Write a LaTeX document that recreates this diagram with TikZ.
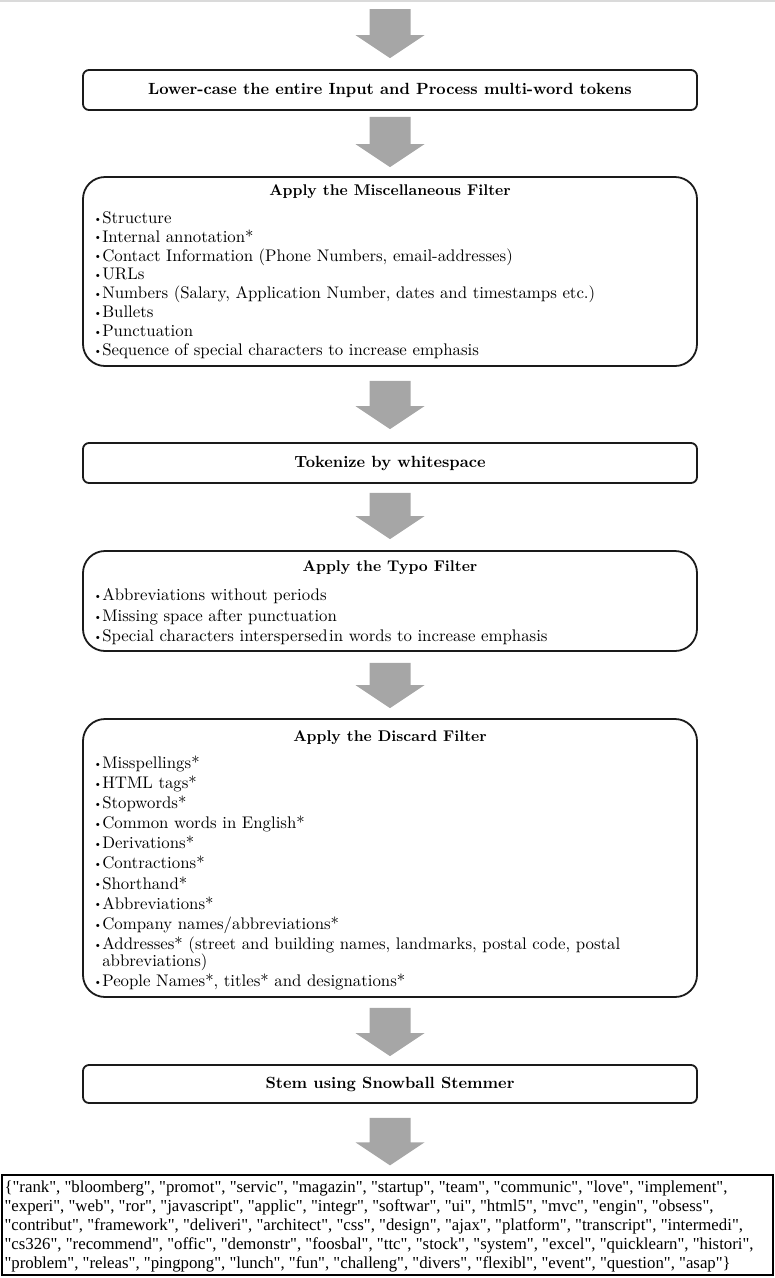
\documentclass[tikz,border=0pt]{standalone}
\usepackage{fontspec}
\newfontfamily\boxfont{lmroman10-regular.otf}[BoldFont=lmroman10-bold.otf]
\newfontfamily\listfont{Liberation Serif}
\usetikzlibrary{calc}

\definecolor{arrowgray}{HTML}{A6A6A6}
\definecolor{edge}{HTML}{1A1A1A}
\definecolor{rulegray}{HTML}{DADADA}

% one bullet item with a hanging indent and a small bullet
\newcommand\bul[1]{\par\hangindent=9pt\hangafter=1\noindent
  \makebox[9pt][c]{\raisebox{1.2pt}{\fontsize{11}{11}\selectfont\textbullet}}#1}
% paragraph spacing of a bullet list, no hyphenation
\newcommand\itemsetup[1]{\setlength{\parskip}{#1}\hyphenpenalty=10000\exhyphenpenalty=10000\relax}

\tikzset{
  stepbox/.style={draw=edge, line width=1.8pt, rounded corners=6pt,
    minimum width=614pt, inner sep=0pt,
    font=\boxfont\fontsize{16.2}{19}\selectfont\bfseries},
  filterbox/.style={draw=edge, line width=1.8pt, rounded corners=22pt,
    minimum width=614pt, inner sep=0pt},
  heading/.style={inner sep=0pt, font=\boxfont\fontsize{15.5}{19}\selectfont\bfseries},
  items/.style={anchor=north west, inner sep=0pt, text width=598pt, align=left,
    font=\boxfont\fontsize{16.8}{17}\selectfont},
  listbox/.style={draw=black, line width=1.3pt, minimum width=771pt,
    minimum height=100pt, inner sep=0pt},
  listtext/.style={anchor=north west, inner sep=0pt, align=left,
    font=\listfont\fontsize{16.8}{19}\selectfont},
  blockarrow/.style={fill=arrowgray, draw=none,
    to path={let \p1=(\tikztostart), \p2=(\tikztotarget) in
      (\x1-20.5pt,\y1) -- (\x1+20.5pt,\y1) -- (\x1+20.5pt,\y2+23pt)
      -- (\x1+34.5pt,\y2+23pt) -- (\x1,\y2) -- (\x1-34.5pt,\y2+23pt)
      -- (\x1-20.5pt,\y2+23pt) -- cycle}},
}

\begin{document}
\begin{tikzpicture}[x=1pt, y=-1pt]
\useasboundingbox (0,0) rectangle (775,1278);
\fill[rulegray] (0,0) rectangle (775,2);

% processing steps
\node[stepbox, minimum height=40pt] (lower) at (390,90)
  {Lower-case the entire Input and Process multi-word tokens};

\node[filterbox, minimum height=189pt] (misc) at (390,271.5) {};
\node[heading] (mischead) at ([yshift=-16pt]misc.north) {Apply the Miscellaneous Filter};
\node[items] (miscitems) at ([xshift=11pt,yshift=-28pt]misc.north west) {%
  \itemsetup{1.9pt}%
  \bul{Structure}
  \bul{Internal annotation*}
  \bul{Contact Information (Phone Numbers, email-addresses)}
  \bul{URLs}
  \bul{Numbers (Salary, Application Number, dates and timestamps etc.)}
  \bul{Bullets}
  \bul{Punctuation}
  \bul{Sequence of special characters to increase emphasis}};

\node[stepbox, minimum height=40pt] (token) at (390,463) {Tokenize by whitespace};

\node[filterbox, minimum height=100pt] (typo) at (390,601) {};
\node[heading] (typohead) at ([yshift=-18pt]typo.north) {Apply the Typo Filter};
\node[items] (typoitems) at ([xshift=11pt,yshift=-30pt]typo.north west) {%
  \itemsetup{3.5pt}%
  \bul{Abbreviations without periods}
  \bul{Missing space after punctuation}
  \bul{Special characters interspersed\hspace{1.5pt}in words to increase emphasis}};

\node[filterbox, minimum height=278pt] (discard) at (390,858) {};
\node[heading] (discardhead) at ([yshift=-20pt]discard.north) {Apply the Discard Filter};
\node[items] (discarditems) at ([xshift=11pt,yshift=-30pt]discard.north west) {%
  \itemsetup{3.1pt}%
  \bul{Misspellings*}
  \bul{HTML tags*}
  \bul{Stopwords*}
  \bul{Common words in English*}
  \bul{Derivations*}
  \bul{Contractions*}
  \bul{Shorthand*}
  \bul{Abbreviations*}
  \bul{Company names/abbreviations*}
  \bul{Addresses* (street and building names, landmarks, postal code, postal abbreviations)}
  \bul{People Names*, titles* and designations*}};

\node[stepbox, minimum height=38pt] (stem) at (390,1084) {Stem using Snowball Stemmer};

% resulting token set
\node[listbox] (result) at (387.5,1225) {};
\node[listtext] (resulttext) at ([xshift=3pt,yshift=-6pt]result.north west) {%
\{"rank", "bloomberg", "promot", "servic", "magazin", "startup", "team", "communic", "love", "implement",\\
"experi", "web", "ror", "javascript", "applic", "integr", "softwar", "ui", "html5", "mvc", "engin", "obsess",\\
"contribut", "framework", "deliveri", "architect", "css", "design", "ajax", "platform", "transcript", "intermedi",\\
"cs326", "recommend", "offic", "demonstr", "foosbal", "ttc", "stock", "system", "excel", "quicklearn", "histori",\\
"problem", "releas", "pingpong", "lunch", "fun", "challeng", "divers", "flexibl", "event", "question", "asap"\}};

% block arrows between the steps
\coordinate (entry) at (390,9);
\path[blockarrow] (entry) to ([yshift=11pt]lower.north);
\path[blockarrow] ([yshift=-6pt]lower.south) to ([yshift=9pt]misc.north);
\path[blockarrow] ([yshift=-14pt]misc.south) to ([yshift=13pt]token.north);
\path[blockarrow] ([yshift=-9pt]token.south) to ([yshift=11pt]typo.north);
\path[blockarrow] ([yshift=-11pt]typo.south) to ([yshift=10pt]discard.north);
\path[blockarrow] ([yshift=-10pt]discard.south) to ([yshift=8pt]stem.north);
\path[blockarrow] ([yshift=-14pt]stem.south) to ([yshift=9pt]result.north);
\end{tikzpicture}
\end{document}
